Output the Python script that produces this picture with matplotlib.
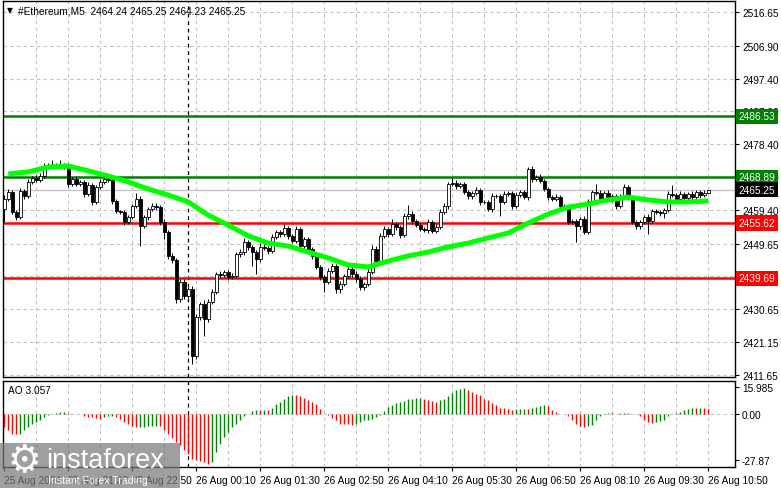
import numpy as np
import matplotlib
matplotlib.use("Agg")
import matplotlib.pyplot as plt
import matplotlib.transforms as mtransforms
from matplotlib.patches import Rectangle

plt.rcParams['font.family'] = ['Liberation Sans', 'DejaVu Sans']

# ---- data (#Ethereum M5, 25 Aug 20:10 -> 26 Aug 10:50) ----
first_open = 2459.7
closes = [
    2462.6, 2464.6, 2458.8, 2457.4, 2464.9, 2463.4, 2467.5, 2468.6, 2468.1, 2469.2,
    2471.8, 2472.1, 2472.4, 2472.1, 2472.4, 2471.8, 2466.9, 2468.3, 2466.9, 2467.5,
    2464.0, 2466.6, 2461.7, 2466.0, 2467.5, 2468.3, 2468.1, 2462.0, 2459.1, 2458.8,
    2455.9, 2457.4, 2460.5, 2462.6, 2454.7, 2457.4, 2459.7, 2460.5, 2460.2, 2455.9,
    2453.0, 2446.1, 2444.9, 2433.6, 2438.6, 2434.5, 2436.5, 2417.1, 2428.4, 2432.2,
    2427.8, 2432.8, 2435.7, 2440.9, 2440.6, 2441.4, 2440.0, 2440.3, 2446.7, 2447.2,
    2450.1, 2448.7, 2447.2, 2445.2, 2448.7, 2448.4, 2447.5, 2451.6, 2453.0, 2452.4,
    2454.2, 2451.9, 2450.4, 2453.9, 2449.0, 2451.0, 2448.1, 2446.1, 2442.9, 2440.0,
    2438.6, 2441.7, 2443.2, 2436.5, 2438.0, 2440.3, 2442.3, 2440.9, 2439.4, 2437.1,
    2438.0, 2441.4, 2448.1, 2444.6, 2451.9, 2453.9, 2452.4, 2455.3, 2454.5, 2452.1,
    2457.6, 2458.2, 2456.2, 2455.0, 2453.9, 2453.6, 2455.9, 2453.3, 2454.5, 2458.8,
    2460.5, 2466.9, 2467.2, 2466.3, 2466.9, 2464.6, 2463.4, 2464.3, 2465.2, 2461.7,
    2461.7, 2459.7, 2463.4, 2463.4, 2461.7, 2464.0, 2464.3, 2460.5, 2463.7, 2464.6,
    2463.1, 2471.2, 2468.3, 2468.9, 2467.8, 2465.5, 2463.1, 2462.6, 2463.1, 2460.5,
    2460.2, 2455.9, 2456.2, 2454.7, 2456.8, 2453.0, 2462.0, 2464.6, 2464.3, 2462.6,
    2464.3, 2462.6, 2463.4, 2460.5, 2463.4, 2466.0, 2463.1, 2455.9, 2454.7, 2455.9,
    2457.4, 2456.2, 2459.1, 2458.8, 2458.5, 2459.4, 2464.0, 2463.7, 2462.6, 2464.0,
    2462.8, 2464.0, 2463.1, 2464.6, 2463.7, 2464.24, 2465.25,
]
wick_up = [
    1.0, 0.8, 0.6, 0.5, 0.9, 0.6, 0.7, 0.6, 0.8, 1.0,
    1.2, 0.8, 1.5, 0.7, 1.3, 0.5, 1.2, 0.6, 0.8, 0.5,
    0.6, 0.9, 0.5, 0.6, 0.8, 1.0, 0.7, 0.6, 0.5, 0.4,
    0.6, 0.5, 0.7, 1.8, 0.8, 0.5, 0.6, 1.0, 0.9, 0.6,
    0.8, 0.6, 0.7, 0.5, 0.9, 0.8, 0.7, 0.9, 0.8, 0.6,
    1.0, 0.7, 0.8, 0.6, 0.8, 0.7, 0.6, 0.9, 0.6, 0.8,
    1.2, 0.7, 0.6, 0.5, 1.0, 0.8, 0.6, 0.9, 0.7, 0.5,
    1.0, 0.6, 0.6, 0.8, 0.7, 0.6, 0.5, 0.6, 0.5, 0.7,
    0.6, 0.8, 0.9, 0.6, 0.7, 0.5, 1.0, 0.6, 0.7, 0.8,
    0.6, 0.8, 1.2, 0.9, 0.7, 0.8, 0.6, 1.5, 0.5, 0.6,
    0.9, 2.6, 0.8, 0.6, 0.5, 0.7, 0.8, 0.6, 0.9, 1.0,
    0.8, 0.7, 1.3, 0.9, 0.7, 0.6, 0.7, 0.6, 0.8, 0.6,
    0.5, 0.7, 0.9, 0.6, 0.6, 0.8, 0.7, 0.6, 0.8, 0.7,
    0.6, 0.6, 1.0, 0.7, 0.9, 0.6, 0.5, 0.6, 0.8, 0.7,
    0.6, 0.5, 0.7, 0.5, 0.6, 0.8, 0.7, 0.7, 2.4, 0.9,
    0.6, 0.8, 0.6, 0.7, 0.6, 0.9, 0.7, 0.5, 0.6, 0.7,
    0.6, 0.8, 0.7, 0.6, 0.5, 0.6, 0.8, 2.6, 0.7, 0.8,
    0.6, 0.7, 0.8, 0.6, 0.7, 0.9, 0.0,
]
wick_dn = [
    3.8, 0.6, 0.7, 0.8, 0.6, 0.7, 0.5, 0.6, 0.5, 0.6,
    0.5, 0.6, 0.4, 0.6, 0.5, 0.7, 0.8, 0.5, 0.7, 0.6,
    0.9, 0.6, 0.8, 0.6, 0.5, 0.7, 0.6, 0.8, 0.7, 0.6,
    0.9, 0.7, 0.6, 0.5, 5.8, 0.6, 0.8, 0.6, 0.7, 0.9,
    2.0, 1.0, 0.8, 1.2, 0.9, 1.0, 0.7, 2.3, 0.8, 0.7,
    4.9, 0.8, 0.6, 0.7, 0.9, 0.6, 0.8, 0.7, 0.6, 0.8,
    0.7, 1.0, 4.0, 4.3, 0.8, 0.7, 0.9, 0.6, 0.7, 0.8,
    0.6, 0.8, 0.7, 0.6, 0.9, 0.7, 0.6, 0.8, 0.7, 0.8,
    2.9, 0.7, 0.6, 1.2, 1.0, 0.6, 0.7, 0.8, 0.9, 1.0,
    0.8, 0.7, 0.6, 0.8, 0.7, 0.6, 0.7, 0.6, 0.8, 0.7,
    0.6, 0.7, 0.8, 0.6, 0.7, 0.6, 0.8, 0.7, 0.6, 0.7,
    0.6, 0.7, 0.6, 0.8, 0.7, 0.6, 0.8, 0.7, 0.6, 0.8,
    0.6, 0.7, 1.0, 0.6, 4.0, 0.6, 0.7, 0.8, 0.6, 0.7,
    0.6, 0.9, 0.7, 0.6, 0.7, 0.6, 0.8, 0.7, 0.6, 0.7,
    0.8, 0.6, 0.7, 4.6, 0.8, 0.7, 0.6, 0.8, 0.7, 0.6,
    0.7, 0.6, 0.8, 0.7, 0.6, 0.7, 0.8, 0.6, 0.7, 0.8,
    0.6, 3.8, 0.7, 0.6, 0.8, 1.5, 0.7, 0.6, 0.7, 0.8,
    0.7, 0.6, 0.7, 0.6, 0.8, 0.7, 0.01,
]
# moving average, read every 5th bar starting at bar 1
ma_vals = [
    2469.8, 2470.4, 2471.8, 2472.1, 2470.7, 2469.2, 2467.5, 2465.45, 2463.7, 2461.7,
    2457.9, 2455.0, 2451.9, 2449.8, 2448.96, 2447.2, 2445.5, 2443.5, 2442.9, 2444.6,
    2446.1, 2447.2, 2448.7, 2449.8, 2451.3, 2452.7, 2455.6, 2458.2, 2460.2, 2461.1,
    2462.3, 2463.1, 2462.3, 2461.7, 2461.7, 2462.0,
]
ao_vals = [
    -8, -10, -12, -12.4, -12, -10, -8, -6, -5, -3.6,
    -2, -1, 0, 0.4, 0.7, 0.9, 0.4, 0, -0.2, -0.4,
    -1.6, -2, -2.1, -2.4, -3, -2, -1.6, -1.5, -2, -3,
    -5, -6.4, -7.6, -8.2, -8.0, -7.9, -7.7, -7.5, -7.4, -7.6,
    -10, -12, -14.4, -17, -19, -22, -24, -27, -28, -28.4,
    -29, -30, -29, -23, -18, -14, -11, -8, -6, -4,
    -1.6, 0, 1.6, 2.4, 2.0, 2.4, 2.3, 3.6, 5.6, 7,
    9, 10.4, 11, 10.9, 10.4, 9.6, 8, 7, 5.6, 3,
    0, -1, -2.4, -4, -6, -6.4, -6.5, -7, -6, -5,
    -4, -3.6, -3, -2, -1, 1.6, 4, 5, 6.4, 7,
    7.6, 8.6, 9, 9.2, 9.4, 9, 8, 7.6, 7, 8,
    9, 10.4, 12.4, 14, 15, 15.6, 14.4, 13, 12, 11,
    9, 8, 6.4, 5, 3.6, 3.4, 3, 2.4, 2.6, 2.8,
    3, 2.8, 3.6, 4, 4.4, 5, 4.4, 2.4, 0.8, 0,
    -0.4, -1.6, -4, -6, -7.6, -8, -7.6, -7, -4, -1.6,
    0, 0.4, 0.2, 0, 0.4, 0.6, 0.2, 0, -0.4, -1.6,
    -3.6, -5, -5.6, -5, -4.4, -3.6, -1.6, 0, 0.4, 1.2,
    2.4, 3, 3.3, 3.1, 3.4, 3.2, 3.057,
]
price_ticks = [2516.65, 2506.90, 2497.40, 2487.90, 2478.40, 2468.90,
               2459.40, 2449.65, 2440.15, 2430.65, 2421.15, 2411.65]
ao_ticks = [15.985, 0.0, -27.87]
ao_tick_labels = ["15.985", "0.00", "-27.87"]
time_labels = ["25 Aug 2024", "25 Aug 21:30", "25 Aug 22:50", "26 Aug 00:10",
               "26 Aug 01:30", "26 Aug 02:50", "26 Aug 04:10", "26 Aug 05:30",
               "26 Aug 06:50", "26 Aug 08:10", "26 Aug 09:30", "26 Aug 10:50"]
green_levels = [2486.53, 2468.89]
red_levels = [2455.62, 2439.69]
last_price = 2465.25
header = "#Ethereum,M5  2464.24 2465.25 2464.23 2465.25"
ao_title = "AO 3.057"

# ---- derived ----
closes = np.array(closes)
opens = np.concatenate([[first_open], closes[:-1]])
highs = np.maximum(opens, closes) + np.array(wick_up)
lows = np.minimum(opens, closes) - np.array(wick_dn)
idx = np.arange(len(closes))
ma_idx = np.arange(1, len(closes), 5)
ao = np.array(ao_vals)

W, H = 781, 489
fig = plt.figure(figsize=(W / 100, H / 100), dpi=100)
ax = fig.add_axes([3 / W, 1 - 378 / H, 732 / W, 376 / H])
ax2 = fig.add_axes([3 / W, 1 - 468 / H, 732 / W, 86 / H], sharex=ax)

FS = 7.3
grid_kw = dict(color='#c0c0c0', lw=0.8, ls=(0, (3, 3)), zorder=0)

ax.set_xlim(-0.3, -0.3 + 732 / 4)
ax.set_ylim(2411.07, 2519.83)
ax2.set_ylim(-32.08, 19.59)

for a in (ax, ax2):
    for s in a.spines.values():
        s.set_color('black')
        s.set_linewidth(1)
    for v in range(8, 183, 8):
        a.axvline(v, **grid_kw)
    a.axvline(46, color='black', lw=0.9, ls=(0, (3, 3)), zorder=1)
    a.yaxis.tick_right()
    a.tick_params(axis='y', labelsize=FS, length=3, pad=2, width=0.8)

for p in price_ticks:
    ax.axhline(p, **grid_kw)
ax.set_yticks(price_ticks)
ax.set_yticklabels([f"{p:.2f}" for p in price_ticks])
ax.tick_params(axis='x', bottom=False, labelbottom=False)

# levels
for p in green_levels:
    ax.axhline(p, color='#008000', lw=1.8, zorder=2)
for p in red_levels:
    ax.axhline(p, color='#ff0000', lw=1.8, zorder=2)
ax.axhline(last_price, color='#c0c0c0', lw=0.9, zorder=1.5)

# candles
ax.vlines(idx, lows, highs, color='black', lw=0.7, zorder=3)
up = closes >= opens
body_h = np.maximum(np.abs(closes - opens), 0.12)
ax.bar(idx, body_h, bottom=np.minimum(opens, closes), width=0.72,
       color=np.where(up, 'white', 'black'), edgecolor='black', lw=0.6, zorder=3.5)

# moving average
ax.plot(ma_idx, ma_vals, color='#00ff00', lw=3.6, solid_capstyle='butt', zorder=4)

# level labels on the price scale
trans = mtransforms.blended_transform_factory(ax.transAxes, ax.transData)
for p, c in [(green_levels[0], '#008000'), (green_levels[1], '#008000'),
             (last_price, 'black'), (red_levels[0], '#ff0000'), (red_levels[1], '#ff0000')]:
    ax.text(1.005, p, f"{p:.2f}", transform=trans, ha='left', va='center', color='white',
            fontsize=FS, clip_on=False, zorder=10,
            bbox=dict(boxstyle='square,pad=0.25', fc=c, ec='none'))

# AO histogram
ao_colors = ['#ff0000'] + ['#008000' if ao[i] > ao[i - 1] else '#ff0000' for i in range(1, len(ao))]
ax2.axhline(0, **grid_kw)
ax2.vlines(idx, 0, ao, colors=ao_colors, lw=1.0, zorder=3)
ax2.set_yticks(ao_ticks)
ax2.set_yticklabels(ao_tick_labels)
ax2.set_xticks(idx[::16])
ax2.set_xticklabels(time_labels, fontsize=FS, ha='left')
ax2.tick_params(axis='x', length=3, pad=3, width=0.8)

fig.text(7 / W, 1 - 11 / H, "\u25bc", fontsize=5.5, family='DejaVu Sans', va='center')
fig.text(18 / W, 1 - 11 / H, header, fontsize=FS, va='center')
fig.text(8 / W, 1 - 391 / H, ao_title, fontsize=FS, va='center')

# watermark
fig.patches.append(Rectangle((0, 0), 180 / W, 45 / H, transform=fig.transFigure,
                             fc='#7a7a7a', ec='none', alpha=0.72, zorder=5))
fig.text(24 / W, 1 - 462 / H, "\u2699", fontsize=27, family='DejaVu Sans', color='white',
         ha='center', va='center', zorder=6)
fig.text(46 / W, 1 - 461 / H, "instaforex", fontsize=19.5, color='white',
         va='center', zorder=6)
fig.text(48 / W, 1 - 481 / H, "Instant Forex Trading", fontsize=7.6, color='white',
         va='center', zorder=6)

fig.savefig("out.png", dpi=100)
